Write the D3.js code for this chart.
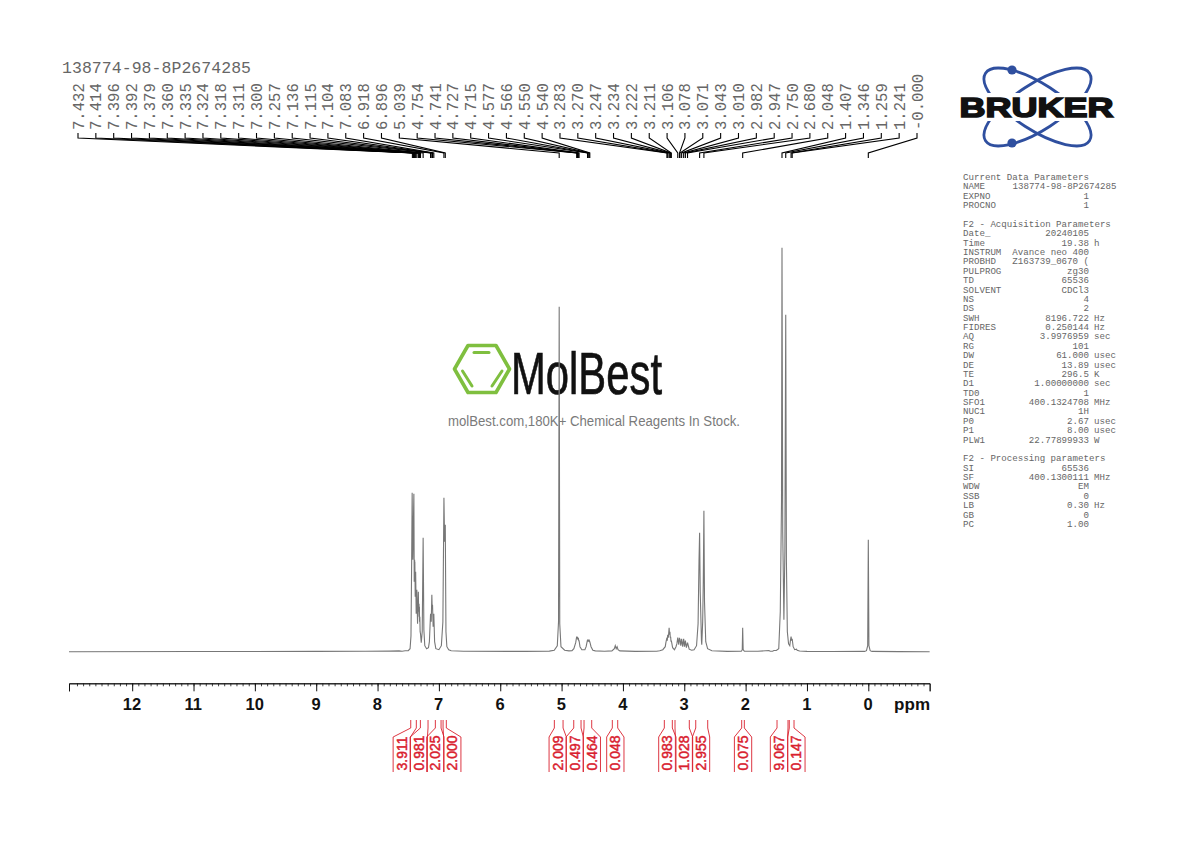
<!DOCTYPE html>
<html>
<head>
<meta charset="utf-8">
<script src="https://cdn.jsdelivr.net/npm/d3@7"></script>
<style>
  html, body { margin: 0; padding: 0; background: #fff; }
  svg { display: block; }
  text { white-space: pre; }
</style>
</head>
<body>
<div id="chart"></div>
<script>
let width = 1190;
let height = 842;

let sampleTitle = '138774-98-8P2674285';

// picked peaks, ppm as printed over the spectrum
let peakLabels = ['7.432','7.414','7.396','7.392','7.379','7.360','7.335','7.324','7.318','7.311','7.300','7.257',
  '7.136','7.115','7.104','7.083','6.918','6.896','5.039','4.754','4.741','4.727','4.715','4.577','4.566','4.550',
  '4.540','3.283','3.270','3.247','3.234','3.222','3.211','3.106','3.078','3.071','3.043','3.010','2.982','2.947',
  '2.750','2.680','2.048','1.407','1.346','1.259','1.241','-0.000'];

// spectrum outline
let spectrumPpm = [13.03, 11, 9, 8.2, 7.8, 7.65, 7.6, 7.55, 7.5, 7.47, 7.455, 7.445, 7.436, 7.425, 7.408, 7.402, 7.396, 7.394, 7.392, 7.386,
  7.379, 7.37, 7.36, 7.348, 7.335, 7.33, 7.324, 7.321, 7.318, 7.315, 7.311, 7.306, 7.3, 7.288, 7.272, 7.257, 7.245, 7.23, 7.2, 7.17,
  7.155, 7.145, 7.136, 7.125, 7.115, 7.11, 7.104, 7.094, 7.083, 7.07, 7.05, 7.0, 6.96, 6.935, 6.918, 6.907, 6.896, 6.885, 6.87, 6.84,
  6.8, 6.6, 5.6, 5.2, 5.12, 5.07, 5.05, 5.039, 5.03, 5.01, 4.95, 4.88, 4.83, 4.8, 4.77, 4.754, 4.748, 4.741, 4.735, 4.727,
  4.721, 4.715, 4.7, 4.67, 4.64, 4.62, 4.6, 4.577, 4.571, 4.566, 4.558, 4.55, 4.545, 4.54, 4.52, 4.49, 4.45, 4.3, 4.18, 4.14,
  4.125, 4.11, 4.095, 4.08, 4.05, 3.8, 3.45, 3.4, 3.35, 3.31, 3.3, 3.283, 3.277, 3.27, 3.26, 3.247, 3.24, 3.234, 3.228, 3.222,
  3.216, 3.211, 3.19, 3.16, 3.135, 3.12, 3.106, 3.09, 3.078, 3.074, 3.071, 3.057, 3.043, 3.026, 3.01, 2.996, 2.982, 2.965, 2.947, 2.92,
  2.88, 2.84, 2.8, 2.775, 2.76, 2.75, 2.74, 2.72, 2.715, 2.7, 2.69, 2.68, 2.67, 2.65, 2.62, 2.55, 2.3, 2.07, 2.055, 2.048, 2.04,
  2.02, 1.8, 1.62, 1.6, 1.56, 1.54, 1.5, 1.46, 1.435, 1.415, 1.407, 1.395, 1.376, 1.36, 1.346, 1.335, 1.32, 1.3, 1.28, 1.272,
  1.259, 1.25, 1.241, 1.225, 1.2, 1.17, 1.16, 1.12, 1.0, 0.6, 0.06, 0.03, 0.01, 0, -0.01, -0.03, -0.06, -0.5, -1];
let spectrumHeight = [0, 0.2, 0.3, 0.5, 0.6, 0.8, 0.5, 0.9, 1, 3, 16, 85, 159, 92, 158, 70, 92, 85, 90, 55,
  80, 38, 62, 28, 60, 40, 48, 35, 45, 30, 35, 20, 18, 9, 20, 114, 22, 6, 3, 4,
  10, 25, 38, 30, 57, 45, 47, 25, 38, 10, 3, 2, 6, 30, 154, 110, 127, 20, 5, 2,
  1, 0.4, 0.3, 0.6, 1.5, 6, 30, 345, 28, 5, 1.5, 0.8, 1, 3, 9, 15, 13, 15, 12, 14,
  11, 11, 5, 2, 2, 2, 5, 12, 10, 12, 10, 12, 10, 10, 5, 1.5, 0.8, 0.4, 0.8, 3,
  6, 3, 5, 2, 0.8, 0.3, 0.5, 1, 2, 5, 9, 14, 11, 17, 14, 24, 17, 20, 14, 15,
  10, 11, 4, 2, 5, 8, 14, 7, 14, 11, 13, 6, 13, 5, 13, 5, 11, 4, 9, 2.5,
  1.5, 2, 6, 28, 90, 119, 60, 11, 7, 30, 70, 141, 50, 10, 3, 1, 0.3, 0.5, 2, 24, 2,
  0.4, 0.4, 1.2, 0.5, 0.5, 1.2, 1.2, 3, 40, 150, 404, 120, 32, 100, 337, 90, 20, 8, 6, 10,
  15, 11, 13, 5, 2, 2.5, 1.5, 0.7, 0.3, 0.2, 0.3, 1, 6, 112, 6, 1, 0.3, 0.1, 0];

// integrals
let integralLabels = ['3.911','0.981','2.025','2.000','2.009','0.497','0.464','0.048','0.983','1.028','2.955','0.075','9.067','0.147'];
let integralFrom = [7.459, 7.302, 7.058, 6.932, 5.118, 4.802, 4.634, 4.173, 3.325, 3.151, 2.813, 2.064, 1.488, 1.288];
let integralTo = [7.368, 7.177, 6.965, 6.879, 4.976, 4.683, 4.509, 4.085, 3.195, 2.918, 2.618, 2.021, 1.309, 1.211];
let integralLabelPpm = [7.605, 7.328, 7.058, 6.782, 5.063, 4.786, 4.507, 4.124, 3.276, 3.004, 2.727, 2.042, 1.456, 1.172];

let axisLabels = d3.range(0, 13);

// acquisition table: label, value, unit
let paramLabels = ['Current Data Parameters','NAME','EXPNO','PROCNO','','F2 - Acquisition Parameters','Date_','Time','INSTRUM','PROBHD','PULPROG','TD','SOLVENT','NS','DS','SWH','FIDRES','AQ','RG','DW','DE','TE','D1','TD0','SFO1','NUC1','P0','P1','PLW1','','F2 - Processing parameters','SI','SF','WDW','SSB','LB','GB','PC'];
let paramValues = ['','138774-98-8P2674285','1','1','','','20240105','19.38','Avance neo 400','Z163739_0670 (','zg30','65536','CDCl3','4','2','8196.722','0.250144','3.9976959','101','61.000','13.89','296.5','1.00000000','1','400.1324708','1H','2.67','8.00','22.77899933','','','65536','400.1300111','EM','0','0.30','0','1.00'];
let paramUnits = ['','','','','','','','h','','','','','','','','Hz','Hz','sec','','usec','usec','K','sec','','MHz','','usec','usec','W','','','','MHz','','','Hz','',''];

let svg = d3.select('#chart')
  .append('svg')
  .attr('width', width)
  .attr('height', height)
  .style('background', '#fff');

let x = d3.scaleLinear().domain([13.03, -1]).range([69, 929.65]);
let y = d3.scaleLinear().domain([0, 404]).range([651.7, 247.7]);

let sans = '"Liberation Sans", Arial, sans-serif';
let mono = '"Liberation Mono", "Courier New", monospace';

// watermark, sits under the spectrum
let mark = svg.append('g').attr('class', 'watermark');
let hexPoints = [[454.5, 369], [468, 345.5], [496, 345.5], [509.5, 369], [496, 392.5], [468, 392.5]];
mark.append('path')
  .attr('d', d3.line().curve(d3.curveLinearClosed)(hexPoints))
  .attr('fill', 'none')
  .attr('stroke', '#7fbf3f')
  .attr('stroke-width', 3.6)
  .attr('stroke-linejoin', 'round');
[[[474, 352.5], [489, 352.5]], [[462.5, 371], [472, 386]], [[492, 386], [502, 371]]].forEach(function(seg) {
  mark.append('path')
    .attr('d', d3.line()(seg))
    .attr('stroke', '#7fbf3f')
    .attr('stroke-width', 3)
    .attr('stroke-linecap', 'round');
});
mark.append('text')
  .attr('x', 511)
  .attr('y', 394)
  .attr('textLength', 151)
  .attr('lengthAdjust', 'spacingAndGlyphs')
  .style('font-family', sans)
  .style('font-size', '59px')
  .style('fill', '#111')
  .style('stroke', '#111')
  .style('stroke-width', 0.7)
  .text('MolBest');
mark.append('text')
  .attr('x', 448)
  .attr('y', 426)
  .attr('textLength', 292)
  .attr('lengthAdjust', 'spacingAndGlyphs')
  .style('font-family', sans)
  .style('font-size', '14px')
  .style('fill', '#7a7a7a')
  .text('molBest.com,180K+ Chemical Reagents In Stock.');

// spectrum
let line = d3.line()
  .x(function(d) { return x(d); })
  .y(function(d, i) { return y(spectrumHeight[i]); });

svg.append('path')
  .attr('d', line(spectrumPpm))
  .attr('fill', 'none')
  .attr('stroke', '#777')
  .attr('stroke-width', 1.1);

// axis
let axisG = svg.append('g').attr('transform', 'translate(0,683.3)');
axisG.append('g')
  .call(d3.axisBottom(x).tickValues(d3.range(0, 130).map(function(d) { return d / 10; }).concat(d3.range(-9, 0).map(function(d) { return d / 10; })))
    .tickSize(3).tickSizeOuter(8).tickFormat(''))
  .call(function(g) { g.selectAll('line, path').attr('stroke', '#111').attr('stroke-width', 0.8); });
axisG.append('g')
  .call(d3.axisBottom(x).tickValues(axisLabels).tickSize(8).tickSizeOuter(8).tickPadding(7).tickFormat(d3.format('d')))
  .call(function(g) {
    g.selectAll('line, path').attr('stroke', '#111').attr('stroke-width', 1);
    g.selectAll('text')
      .attr('dx', -0.7)
      .style('font-family', sans)
      .style('font-weight', 'bold')
      .style('font-size', '16.5px')
      .style('fill', '#111');
  });
svg.append('text')
  .attr('x', 930)
  .attr('y', 710)
  .attr('text-anchor', 'end')
  .style('font-family', sans)
  .style('font-weight', 'bold')
  .style('font-size', '17px')
  .style('fill', '#111')
  .text('ppm');

// peak labels and leaders
svg.append('text')
  .attr('x', 62)
  .attr('y', 73)
  .attr('textLength', 189)
  .style('font-family', mono)
  .style('font-size', '16.5px')
  .style('fill', '#666')
  .text(sampleTitle);

let labelX = d3.scalePoint().domain(d3.range(peakLabels.length)).range([78, 917]);
let leader = d3.line();

let peaks = svg.append('g').selectAll('g')
  .data(peakLabels)
  .enter()
  .append('g');
peaks.append('path')
  .attr('d', function(d, i) {
    let lx = labelX(i);
    let px = x(+d);
    return leader([[lx, 133], [lx, 138], [px, 153], [px, 158]]);
  })
  .attr('fill', 'none')
  .attr('stroke', '#000')
  .attr('stroke-width', 1.1);
peaks.append('text')
  .attr('transform', function(d, i) { return 'translate(' + (labelX(i) + 5.5) + ',130) rotate(-90)'; })
  .style('font-family', mono)
  .style('font-size', '15.6px')
  .style('fill', '#666')
  .text(function(d) { return d; });

// integrals
let boxWidth = 17.3;
let integrals = svg.append('g').selectAll('g')
  .data(integralLabels)
  .enter()
  .append('g');
integrals.append('path')
  .attr('d', function(d, i) {
    let c = x(integralLabelPpm[i]);
    return leader([[x(integralFrom[i]), 720], [x(integralFrom[i]), 728], [c - boxWidth / 2, 737], [c - boxWidth / 2, 772]]) +
      leader([[x(integralTo[i]), 720], [x(integralTo[i]), 728], [c + boxWidth / 2, 737], [c + boxWidth / 2, 772]]);
  })
  .attr('fill', 'none')
  .attr('stroke', '#d9202e')
  .attr('stroke-width', 0.9);
integrals.append('text')
  .attr('transform', function(d, i) { return 'translate(' + (x(integralLabelPpm[i]) + 5) + ',770.5) rotate(-90)'; })
  .style('font-family', sans)
  .style('font-size', '14px')
  .style('fill', '#d9202e')
  .style('stroke', '#d9202e')
  .style('stroke-width', 0.45)
  .text(function(d) { return d; });

// parameters table
let table = svg.append('g').selectAll('g')
  .data(paramLabels)
  .enter()
  .append('g')
  .attr('transform', function(d, i) { return 'translate(0,' + (180 + i * 9.375) + ')'; })
  .style('font-family', mono)
  .style('font-size', '9.15px')
  .style('fill', '#666');
table.append('text').attr('x', 963).text(function(d) { return d; });
table.append('text')
  .attr('x', function(d, i) { return i === 1 ? 1116.5 : 1089; })
  .attr('text-anchor', 'end')
  .text(function(d, i) { return paramValues[i]; });
table.append('text').attr('x', 1094).text(function(d, i) { return paramUnits[i]; });

// logo
let logo = svg.append('g');
[33, -33].forEach(function(angle) {
  logo.append('ellipse')
    .attr('cx', 1037.5)
    .attr('cy', 107)
    .attr('rx', 62)
    .attr('ry', 23)
    .attr('transform', 'rotate(' + angle + ',1037.5,107)')
    .attr('fill', 'none')
    .attr('stroke', '#2f4f9f')
    .attr('stroke-width', 2.8);
});
[70, 143].forEach(function(cy) {
  logo.append('circle').attr('cx', 1012).attr('cy', cy).attr('r', 4.6).attr('fill', '#2f4f9f');
});
logo.append('rect').attr('x', 955).attr('y', 93).attr('width', 165).attr('height', 28).attr('fill', '#fff');
logo.append('text')
  .attr('x', 959.5)
  .attr('y', 117)
  .attr('textLength', 154)
  .attr('lengthAdjust', 'spacingAndGlyphs')
  .style('font-family', sans)
  .style('font-weight', 'bold')
  .style('font-size', '28px')
  .style('fill', '#111')
  .style('stroke', '#111')
  .style('stroke-width', 1.6)
  .text('BRUKER');
</script>
</body>
</html>
